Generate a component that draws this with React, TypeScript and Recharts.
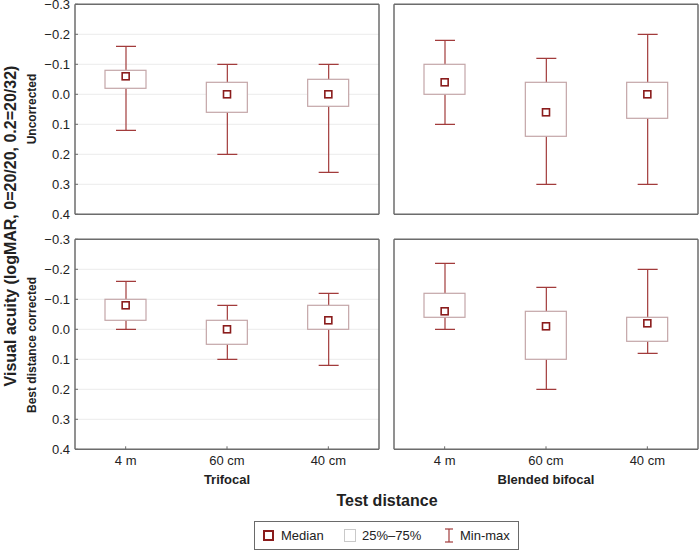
import React from 'react';
import {
  ComposedChart,
  Bar,
  Scatter,
  XAxis,
  YAxis,
  CartesianGrid,
} from 'recharts';

// test distances
const categories = ['4 m', '60 cm', '40 cm'];
const yTicks = [-0.3, -0.2, -0.1, 0, 0.1, 0.2, 0.3, 0.4];

// trifocal, uncorrected
const triUncMin = [-0.16, -0.1, -0.1];
const triUncQ1 = [-0.08, -0.04, -0.05];
const triUncMedian = [-0.06, 0.0, 0.0];
const triUncQ3 = [-0.02, 0.06, 0.04];
const triUncMax = [0.12, 0.2, 0.26];

// blended bifocal, uncorrected
const blendUncMin = [-0.18, -0.12, -0.2];
const blendUncQ1 = [-0.1, -0.04, -0.04];
const blendUncMedian = [-0.04, 0.06, 0.0];
const blendUncQ3 = [0.0, 0.14, 0.08];
const blendUncMax = [0.1, 0.3, 0.3];

// trifocal, best distance corrected
const triBdcMin = [-0.16, -0.08, -0.12];
const triBdcQ1 = [-0.1, -0.03, -0.08];
const triBdcMedian = [-0.08, 0.0, -0.03];
const triBdcQ3 = [-0.03, 0.05, 0.0];
const triBdcMax = [0.0, 0.1, 0.12];

// blended bifocal, best distance corrected
const blendBdcMin = [-0.22, -0.14, -0.2];
const blendBdcQ1 = [-0.12, -0.06, -0.04];
const blendBdcMedian = [-0.06, -0.01, -0.02];
const blendBdcQ3 = [-0.04, 0.1, 0.04];
const blendBdcMax = [0.0, 0.2, 0.08];

const FRAME = '#6c6c6c';
const GRID = '#ebebeb';
const WHISKER = '#a23b3b';
const BOX = '#c4a6a8';
const MEDIAN = '#8a1c1c';
const TEXT = '#222';
const FONT = '"Liberation Sans", Arial, sans-serif';

const build = (mn: number[], q1: number[], md: number[], q3: number[], mx: number[]) =>
  categories.map((cat, i) => ({ cat, min: mn[i], q1: q1[i], median: md[i], q3: q3[i], max: mx[i] }));

const fmt = (v: number) => (v < 0 ? '\u2212' : '') + Math.abs(v).toFixed(1);

const WhiskerShape = (props: any) => {
  const { x, y, width, height } = props;
  const top = Math.min(y, y + height);
  const bottom = Math.max(y, y + height);
  const cx = x + width / 2;
  return (
    <g stroke={WHISKER} strokeWidth={1.2}>
      <line x1={cx} x2={cx} y1={top} y2={bottom} />
      <line x1={x} x2={x + width} y1={top} y2={top} />
      <line x1={x} x2={x + width} y1={bottom} y2={bottom} />
    </g>
  );
};

const BoxShape = (props: any) => {
  const { x, y, width, height } = props;
  const top = Math.min(y, y + height);
  return <rect x={x} y={top} width={width} height={Math.abs(height)} fill="#fff" stroke={BOX} strokeWidth={1.2} />;
};

const MedianShape = (props: any) => {
  const { cx, cy } = props;
  return <rect x={cx - 3.5} y={cy - 3.5} width={7} height={7} fill="#fff" stroke={MEDIAN} strokeWidth={1.6} />;
};

interface PanelProps {
  data: ReturnType<typeof build>;
  left: number;
  top: number;
  width: number;
  height: number;
  margin: { top: number; right: number; bottom: number; left: number };
  yLabels: boolean;
  xLabels: boolean;
  groupLabel?: string;
}

const Panel: React.FC<PanelProps> = ({ data, left, top, width, height, margin, yLabels, xLabels, groupLabel }) => (
  <div style={{ position: 'absolute', left, top }}>
    <ComposedChart width={width} height={height} data={data} margin={margin}>
      <CartesianGrid vertical={false} stroke={GRID} />
      <XAxis
        xAxisId="top"
        orientation="top"
        dataKey="cat"
        height={1}
        tick={false}
        tickSize={-3}
        stroke={FRAME}
        axisLine={{ stroke: FRAME, strokeWidth: 1.5 }}
      />
      <XAxis
        xAxisId="bottom"
        dataKey="cat"
        height={xLabels ? 36 : 1}
        tick={xLabels ? { fontSize: 13, fill: TEXT, fontFamily: FONT } : false}
        tickSize={-3}
        tickMargin={9}
        stroke={FRAME}
        axisLine={{ stroke: FRAME, strokeWidth: 1.5 }}
        label={
          groupLabel
            ? { value: groupLabel, position: 'insideBottom', offset: 1, fontSize: 13, fontWeight: 700, fill: TEXT, fontFamily: FONT }
            : undefined
        }
      />
      <YAxis
        type="number"
        domain={[-0.3, 0.4]}
        ticks={yTicks}
        reversed
        allowDataOverflow
        width={yLabels ? 75 : 1}
        tick={yLabels ? { fontSize: 13, fill: TEXT, fontFamily: FONT } : false}
        tickFormatter={fmt}
        tickSize={-3}
        tickMargin={8}
        stroke={FRAME}
        axisLine={{ stroke: FRAME, strokeWidth: 1.5 }}
      />
      <YAxis
        yAxisId="r"
        orientation="right"
        type="number"
        domain={[-0.3, 0.4]}
        ticks={yTicks}
        reversed
        allowDataOverflow
        width={1}
        tick={false}
        tickSize={-3}
        stroke={FRAME}
        axisLine={{ stroke: FRAME, strokeWidth: 1.5 }}
      />
      <Bar
        xAxisId="top"
        dataKey={(d: any) => [d.min, d.max]}
        barSize={20}
        shape={WhiskerShape}
        isAnimationActive={false}
      />
      <Bar
        xAxisId="bottom"
        dataKey={(d: any) => [d.q1, d.q3]}
        barSize={41}
        shape={BoxShape}
        isAnimationActive={false}
      />
      <Scatter xAxisId="bottom" dataKey="median" shape={MedianShape} isAnimationActive={false} />
    </ComposedChart>
  </div>
);

export default function App() {
  return (
    <div
      style={{
        position: 'absolute',
        left: 0,
        top: 0,
        width: 699,
        height: 550,
        overflow: 'hidden',
        background: '#fff',
        fontFamily: FONT,
      }}
    >
      <Panel
        data={build(triUncMin, triUncQ1, triUncMedian, triUncQ3, triUncMax)}
        left={0}
        top={-10}
        width={381}
        height={240}
        margin={{ top: 13.3, right: 1, bottom: 14.7, left: 0 }}
        yLabels
        xLabels={false}
      />
      <Panel
        data={build(blendUncMin, blendUncQ1, blendUncMedian, blendUncQ3, blendUncMax)}
        left={388}
        top={-10}
        width={312}
        height={240}
        margin={{ top: 13.3, right: 1, bottom: 14.7, left: 5 }}
        yLabels={false}
        xLabels={false}
      />
      <Panel
        data={build(triBdcMin, triBdcQ1, triBdcMedian, triBdcQ3, triBdcMax)}
        left={0}
        top={220}
        width={381}
        height={276}
        margin={{ top: 18.3, right: 1, bottom: 10.7, left: 0 }}
        yLabels
        xLabels
        groupLabel="Trifocal"
      />
      <Panel
        data={build(blendBdcMin, blendBdcQ1, blendBdcMedian, blendBdcQ3, blendBdcMax)}
        left={388}
        top={220}
        width={312}
        height={276}
        margin={{ top: 18.3, right: 1, bottom: 10.7, left: 5 }}
        yLabels={false}
        xLabels
        groupLabel="Blended bifocal"
      />

      <svg
        width={699}
        height={550}
        style={{ position: 'absolute', left: 0, top: 0, pointerEvents: 'none' }}
        fontFamily={FONT}
      >
        <text
          transform="translate(15.5,226) rotate(-90)"
          textAnchor="middle"
          fontSize={16}
          fontWeight={700}
          fill={TEXT}
        >
          Visual acuity (logMAR, 0=20/20, 0.2=20/32)
        </text>
        <text transform="translate(36,109) rotate(-90)" textAnchor="middle" fontSize={12} fontWeight={700} fill={TEXT}>
          Uncorrected
        </text>
        <text transform="translate(36,345) rotate(-90)" textAnchor="middle" fontSize={12} fontWeight={700} fill={TEXT}>
          Best distance corrected
        </text>
        <text x={387} y={506} textAnchor="middle" fontSize={16} fontWeight={700} fill={TEXT}>
          Test distance
        </text>

        <rect x={254.5} y={521.5} width={264} height={28} fill="#fff" stroke="#6a6a6a" strokeWidth={1} />
        <rect x={264} y={531} width={9} height={9} fill="#fff" stroke={MEDIAN} strokeWidth={2} />
        <text x={281} y={540} fontSize={13} fill={TEXT}>Median</text>
        <rect x={344.5} y={529.5} width={11} height={12} fill="#fff" stroke="#c9c9c9" strokeWidth={1} />
        <text x={362} y={540} fontSize={13} fill={TEXT}>25%–75%</text>
        <g stroke={WHISKER} strokeWidth={1.2}>
          <line x1={449} x2={449} y1={529} y2={542} />
          <line x1={445} x2={453} y1={529} y2={529} />
          <line x1={445} x2={453} y1={542} y2={542} />
        </g>
        <text x={460} y={540} fontSize={13} fill={TEXT}>Min-max</text>
      </svg>
    </div>
  );
}
